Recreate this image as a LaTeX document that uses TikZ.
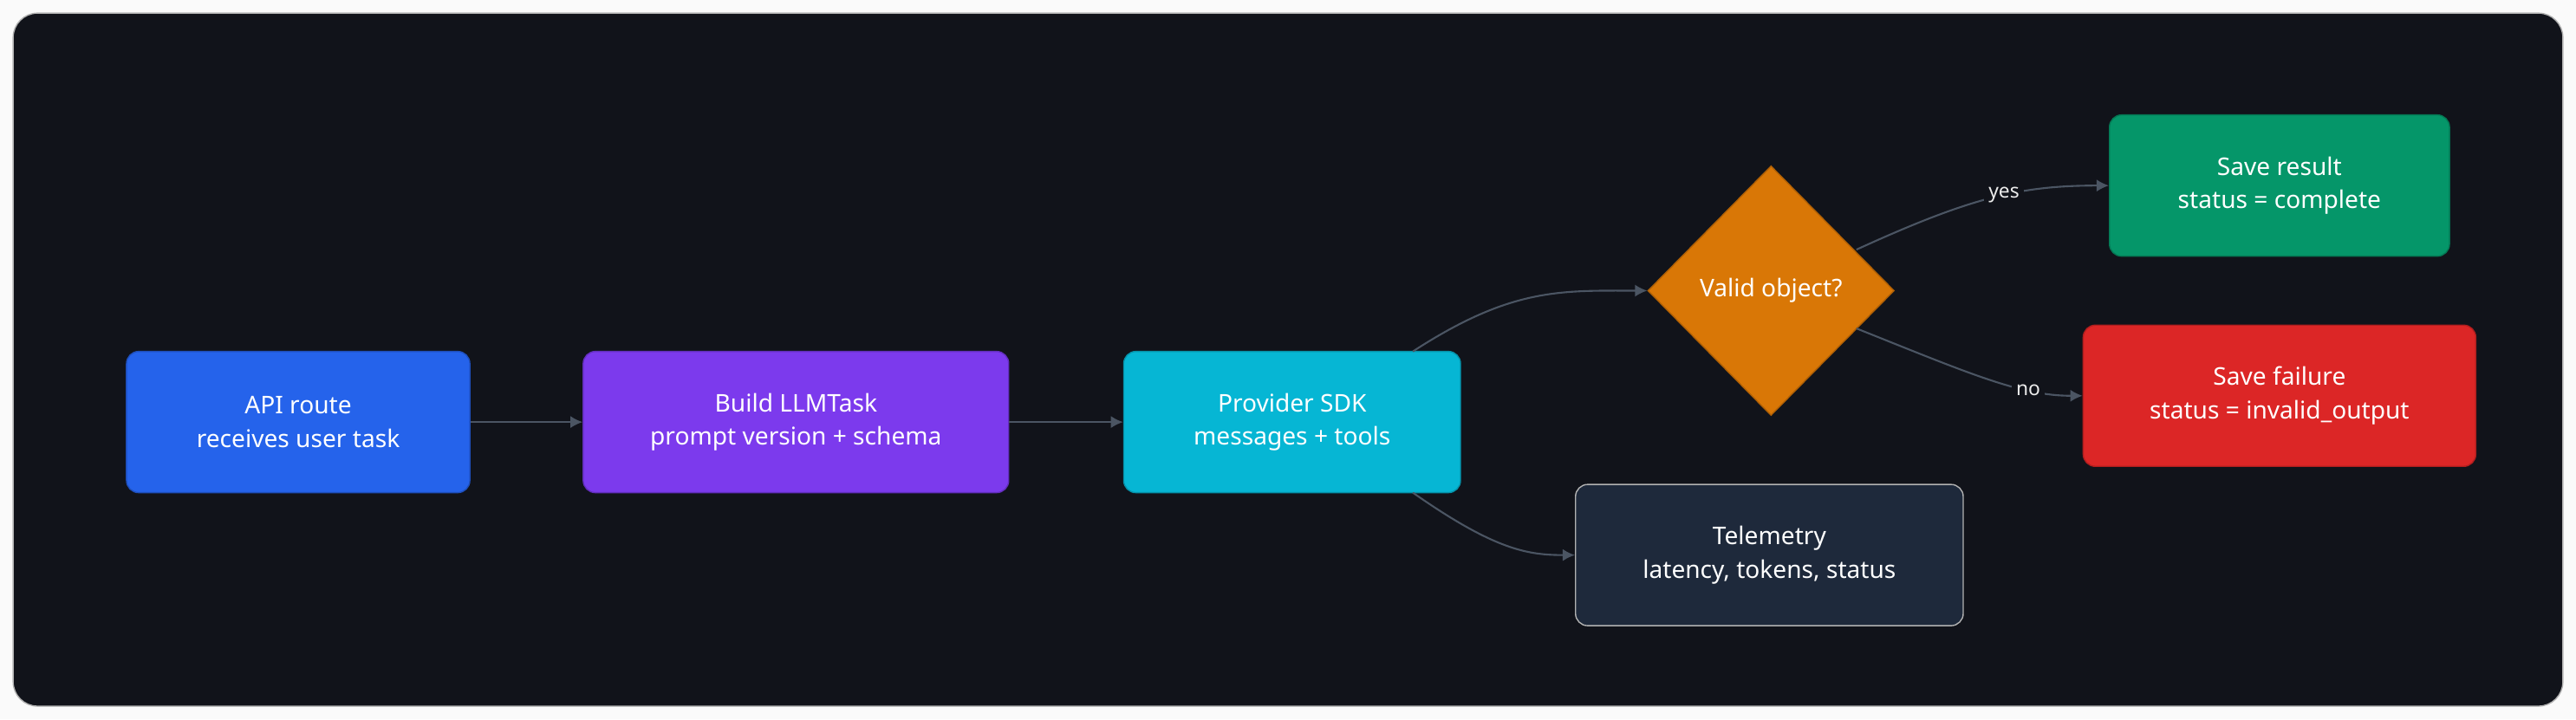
\documentclass[tikz,border=0pt]{standalone}
\usepackage{fontspec}
\setmainfont{Noto Sans}
\usetikzlibrary{shapes.geometric,arrows.meta}
\definecolor{bgdark}{HTML}{11131A}
\definecolor{edgegrey}{HTML}{4B5563}
\definecolor{apiblue}{HTML}{2563EB}
\definecolor{buildpurple}{HTML}{7C3AED}
\definecolor{sdkcyan}{HTML}{06B6D4}
\definecolor{checkorange}{HTML}{D97706}
\definecolor{okgreen}{HTML}{059669}
\definecolor{failred}{HTML}{DC2626}
\definecolor{telslate}{HTML}{1E293B}
\tikzset{
  box/.style={rectangle,rounded corners=4pt,draw=#1!80!black,fill=#1,text=white,
    align=center,font=\fontsize{8}{11}\selectfont,inner sep=0pt},
  flow/.style={draw=edgegrey,line width=0.6pt,-{Latex[length=4pt,width=4pt]}},
  tag/.style={fill=bgdark,text=white!85!gray,font=\fontsize{6.5}{8}\selectfont,inner sep=1.5pt}
}
\begin{document}
\begin{tikzpicture}[x=0.018954cm,y=-0.018954cm]
\useasboundingbox (0,0) rectangle (1568,438);
\fill[white!96!gray] (0,0) rectangle (1568,438);
\draw[fill=bgdark,draw=gray!60,rounded corners=8pt] (8,8) rectangle (1560,430);
% nodes
\node[box=apiblue,minimum width=209*0.018954cm,minimum height=86*0.018954cm] (api) at (181.5,257) {API route\\receives user task};
\node[box=buildpurple,minimum width=259*0.018954cm,minimum height=86*0.018954cm] (build) at (484.5,257) {Build LLMTask\\prompt version + schema};
\node[box=sdkcyan,minimum width=205*0.018954cm,minimum height=86*0.018954cm] (sdk) at (786.5,257) {Provider SDK\\messages + tools};
\node[diamond,draw=checkorange!80!black,fill=checkorange,text=white,font=\fontsize{8}{11}\selectfont,
  minimum width=150*0.018954cm,minimum height=152*0.018954cm,inner sep=0pt] (valid) at (1078,177) {Valid object?};
\node[box=okgreen,minimum width=207*0.018954cm,minimum height=86*0.018954cm] (save) at (1387.5,113) {Save result\\status = complete};
\node[box=failred,minimum width=239*0.018954cm,minimum height=86*0.018954cm] (fail) at (1387.5,241) {Save failure\\status = invalid\_output};
\node[box=telslate,draw=gray!60,minimum width=236*0.018954cm,minimum height=86*0.018954cm] (tel) at (1077,338) {Telemetry\\latency, tokens, status};
% connectors
\draw[flow] (api) -- (build);
\draw[flow] (build) -- (sdk);
\coordinate (sdkup) at (860,214);
\coordinate (sdkdn) at (860,300);
\draw[flow] (sdkup) .. controls (920,175) and (950,177) .. (valid.west);
\draw[flow] (sdkdn) .. controls (910,335) and (930,338) .. (tel.west);
\coordinate (vyes) at (1130,152);
\coordinate (vno) at (1130,200);
\draw[flow] (vyes) .. controls (1200,120) and (1230,113) .. (save.west) node[tag,pos=0.55] {yes};
\draw[flow] (vno) .. controls (1200,228) and (1230,241) .. (fail.west) node[tag,pos=0.7] {no};
\end{tikzpicture}
\end{document}
